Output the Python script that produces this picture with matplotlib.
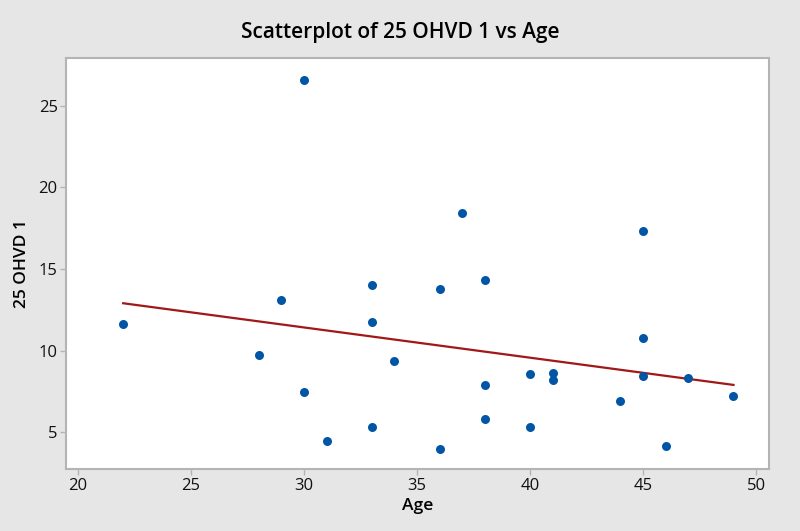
import numpy as np
import matplotlib
matplotlib.use("Agg")
import matplotlib.pyplot as plt

plt.rcParams['font.family'] = ['Open Sans', 'DejaVu Sans']

# data
age = [22, 28, 29, 30, 30, 31, 33, 33, 33, 34, 36, 36, 37, 38, 38, 38,
       40, 40, 41, 41, 44, 45, 45, 45, 46, 47, 49]
ohvd = [11.65, 9.75, 13.1, 26.55, 7.5, 4.45, 14.0, 11.75, 5.35, 9.35, 13.75, 4.0, 18.45, 14.35, 7.9, 5.8,
        8.55, 5.35, 8.65, 8.2, 6.95, 17.3, 10.8, 8.45, 4.15, 8.3, 7.2]
xticks = [20, 25, 30, 35, 40, 45, 50]
yticks = [5, 10, 15, 20, 25]

fig = plt.figure(figsize=(8, 5.31), dpi=100)
fig.patch.set_facecolor('#e6e6e6')
ax = fig.add_axes([0.0825, 0.1162, 0.879, 0.774])
ax.set_facecolor('white')

ax.scatter(age, ohvd, s=42, color='#0055a5', zorder=3, linewidths=0)

# least squares fit line
b, a = np.polyfit(age, ohvd, 1)
xs = np.array([min(age), max(age)])
ax.plot(xs, a + b * xs, color='#a01818', lw=1.6, zorder=2)

ax.set_xlim(19.47, 50.58)
ax.set_ylim(2.74, 27.9)
ax.set_xticks(xticks)
ax.set_yticks(yticks)

for s in ax.spines.values():
    s.set_color('#b4b4b4')
    s.set_linewidth(1.5)
ax.tick_params(colors='#b4b4b4', labelcolor='#111111', labelsize=12, length=4, width=1, pad=2)

ax.set_xlabel('Age', fontsize=12.5, fontweight='semibold', labelpad=3)
ax.set_ylabel('25 OHVD 1', fontsize=12.5, fontweight='semibold', labelpad=6)
fig.suptitle('Scatterplot of 25 OHVD 1 vs Age', fontsize=15, fontweight='semibold', y=0.958)

fig.savefig('out.png', dpi=100, facecolor=fig.get_facecolor())
